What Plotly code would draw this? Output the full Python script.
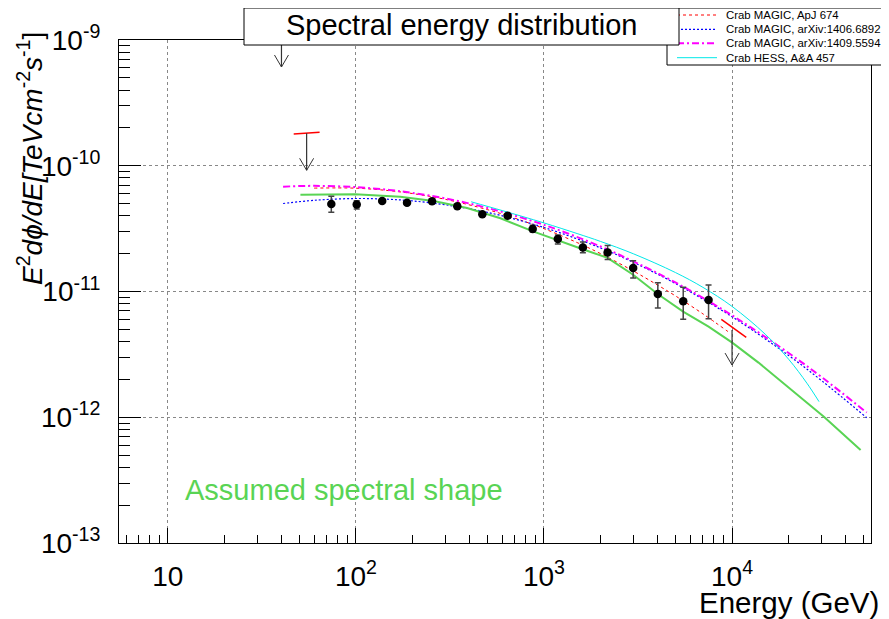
import numpy as np
import plotly.graph_objects as go

# ---------------- data ----------------
# measured points (GeV, TeV cm^-2 s^-1)
energy = [74, 101, 138, 187, 254, 346, 470, 641, 871, 1185, 1610, 2180, 2980, 4030, 5500, 7500]
flux = [4.97e-11, 4.91e-11, 5.25e-11, 5.08e-11, 5.21e-11, 4.76e-11, 4.11e-11, 4.01e-11,
        3.14e-11, 2.62e-11, 2.24e-11, 2.04e-11, 1.54e-11, 9.55e-12, 8.36e-12, 8.56e-12]
flux_err_up = [0.74e-11, 0.36e-11, 0.18e-11, 0.15e-11, 0.15e-11, 0.15e-11, 0.15e-11, 0.15e-11,
               0.22e-11, 0.19e-11, 0.23e-11, 0.28e-11, 0.22e-11, 2.2e-12, 2.44e-12, 2.7e-12]
flux_err_down = [0.70e-11, 0.38e-11, 0.18e-11, 0.15e-11, 0.15e-11, 0.15e-11, 0.15e-11, 0.15e-11,
                 0.17e-11, 0.23e-11, 0.21e-11, 0.24e-11, 0.26e-11, 2.16e-12, 2.35e-12, 2.5e-12]

# upper limits (arrow start = UL value, arrow end)
ul_energy = [40.2, 54.7, 10000]
ul_flux = [1.2e-9, 1.81e-10, 4.94e-12]
ul_arrow_end = [6.1e-10, 9.2e-11, 2.6e-12]

# red slope segments at the upper limits
seg1_energy = [46.7, 54.7, 64.1]
seg1_flux = [1.79e-10, 1.81e-10, 1.845e-10]
seg2_energy = [8770, 11900]
seg2_flux = [6.01e-12, 4.32e-12]

# reference spectra
magic_apj_E = [60, 100, 150, 200, 300, 500, 700, 1000, 1500, 2000, 3000, 4000, 5000, 7000, 9500]
magic_apj_F = [6.64e-11, 6.63e-11, 6.34e-11, 6.01e-11, 5.40e-11, 4.48e-11, 3.83e-11, 3.16e-11,
               2.45e-11, 2.00e-11, 1.45e-11, 1.13e-11, 9.23e-12, 6.64e-12, 4.81e-12]

magic_1406_E = [41, 60, 100, 150, 200, 300, 500, 1000, 2000, 3000, 5000, 10000, 20000, 30000, 52000]
magic_1406_F = [5.01e-11, 5.31e-11, 5.49e-11, 5.41e-11, 5.25e-11, 4.89e-11, 4.26e-11, 3.23e-11,
                2.22e-11, 1.70e-11, 1.157e-11, 6.30e-12, 3.10e-12, 1.95e-12, 9.91e-13]

magic_1409_E = [41, 60, 100, 150, 200, 300, 500, 1000, 2000, 3000, 5000, 10000, 20000, 30000, 52000]
magic_1409_F = [6.82e-11, 6.92e-11, 6.76e-11, 6.42e-11, 6.08e-11, 5.49e-11, 4.62e-11, 3.39e-11,
                2.28e-11, 1.73e-11, 1.18e-11, 6.46e-12, 3.24e-12, 2.08e-12, 1.09e-12]

hess_E = [410, 600, 1000, 1500, 2000, 3000, 5000, 7000, 10000, 15000, 20000, 25000, 29000]
hess_F = [5.17e-11, 4.40e-11, 3.51e-11, 2.89e-11, 2.50e-11, 1.99e-11, 1.415e-11, 1.079e-11,
          7.61e-12, 4.58e-12, 2.89e-12, 1.866e-12, 1.331e-12]

assumed_E = [50.7, 99, 172, 259, 390, 587, 882, 1329, 1607, 2178, 2979, 4025, 5495, 7500, 10020, 13820,
             30780, 48250]
assumed_F = [5.89e-11, 5.93e-11, 5.67e-11, 5.24e-11, 4.61e-11, 3.82e-11, 2.99e-11, 2.38e-11, 2.17e-11,
             1.85e-11, 1.36e-11, 9.55e-12, 6.91e-12, 5.25e-12, 3.92e-12, 2.72e-12, 1.01e-12, 5.49e-13]

legend_labels = ["Crab MAGIC, ApJ 674", "Crab MAGIC, arXiv:1406.6892",
                 "Crab MAGIC, arXiv:1409.5594", "Crab HESS, A&A 457"]

x_tickvals = [10, 100, 1000, 10000]
x_ticktext = ["10", "10<sup>2</sup>", "10<sup>3</sup>", "10<sup>4</sup>"]
y_tickvals = [1e-13, 1e-12, 1e-11, 1e-10, 1e-9]
y_ticktext = ["10<sup>-13</sup>", "10<sup>-12</sup>", "10<sup>-11</sup>", "10<sup>-10</sup>", "10<sup>-9</sup>"]

# ---------------- styling ----------------
OFF = 8                      # page body margin of the html page
W, H = 889 - OFF, 619 - OFF
ML, MR, MT, MB = 119 - OFF, 18, 40 - OFF, 76
PW, PH = W - ML - MR, H - MT - MB
FONT = "Liberation Sans, Arial, Helvetica, sans-serif"
GREEN = "#59d454"
RED, BLUE, MAG, CYAN = "#ff0000", "#0000ff", "#ff00ff", "#00e8e8"
XR = [np.log10(5.5), np.log10(54800)]
YR = [-13, -9]


def px(x):   # reference-picture pixel -> paper fraction
    return (x - OFF - ML) / PW


def py(y):
    return (H - MB - (y - OFF)) / PH


def minor_vals(lo_exp, hi_exp):
    return [m * 10.0 ** e for e in range(lo_exp, hi_exp) for m in range(2, 10)]


fig = go.Figure()

curves = [
    (magic_apj_E, magic_apj_F, RED, 1, "3px,3px", "spline"),
    (magic_1406_E, magic_1406_F, BLUE, 1.2, "2px,2px", "spline"),
    (magic_1409_E, magic_1409_F, MAG, 2, "7px,3px,2px,3px", "spline"),
    (hess_E, hess_F, CYAN, 1, "solid", "spline"),
    (assumed_E, assumed_F, GREEN, 2, "solid", "linear"),
]
for e, f, c, w, d, s in curves:
    fig.add_trace(go.Scatter(x=e, y=f, mode="lines", line=dict(color=c, width=w, dash=d, shape=s),
                             showlegend=False, hoverinfo="skip"))

# red segments
for se, sf in [(seg1_energy, seg1_flux), (seg2_energy, seg2_flux)]:
    fig.add_trace(go.Scatter(x=se, y=sf, mode="lines", line=dict(color=RED, width=1.5),
                             showlegend=False, hoverinfo="skip"))

# upper-limit arrows
ARROW = "#333333"
head_dx = 7.0 / PW * (XR[1] - XR[0])
head_dy = 12.0 / PH * (YR[1] - YR[0])
for e, f0, f1 in zip(ul_energy, ul_flux, ul_arrow_end):
    fig.add_trace(go.Scatter(x=[e, e], y=[f0, f1], mode="lines", line=dict(color=ARROW, width=1.2),
                             showlegend=False, hoverinfo="skip"))
    fig.add_trace(go.Scatter(x=[e * 10 ** (-head_dx), e, e * 10 ** head_dx],
                             y=[f1 * 10 ** head_dy, f1, f1 * 10 ** head_dy], mode="lines",
                             line=dict(color=ARROW, width=1), showlegend=False, hoverinfo="skip"))

# data points
fig.add_trace(go.Scatter(x=energy, y=flux, mode="markers",
                         marker=dict(color="black", size=8.5, symbol="circle"),
                         error_y=dict(type="data", array=flux_err_up, arrayminus=flux_err_down,
                                      color="#444444", thickness=1.5, width=3),
                         showlegend=False, hoverinfo="skip"))

axis_common = dict(type="log", showline=True, linecolor="black", linewidth=1, mirror=True,
                   ticks="inside", tickcolor="black", tickmode="array",
                   showgrid=True, gridcolor="#888888", griddash="dot", gridwidth=1,
                   zeroline=False, tickfont=dict(family=FONT, size=28, color="black"))

fig.update_xaxes(**axis_common, range=XR, ticklen=15, tickvals=x_tickvals, ticktext=x_ticktext,
                 minor=dict(tickmode="array", tickvals=minor_vals(0, 5), ticks="inside", ticklen=8,
                            tickcolor="black", showgrid=False),
                 ticklabelstandoff=8)
fig.update_yaxes(**axis_common, range=YR, ticklen=22, tickvals=y_tickvals, ticktext=y_ticktext,
                 minor=dict(tickmode="array", tickvals=minor_vals(-13, -9), ticks="inside", ticklen=11,
                            tickcolor="black", showgrid=False),
                 ticklabelstandoff=12)

shapes = []
annotations = []

# legend box
shapes.append(dict(type="rect", xref="paper", yref="paper", x0=px(667), x1=px(887), y0=py(65), y1=py(8),
                   line=dict(color="black", width=1), fillcolor="white", layer="above"))
legend_styles = [(RED, 1, "3px,3px"), (BLUE, 1.2, "2px,2px"), (MAG, 2, "7px,3px,2px,3px"), (CYAN, 1, "solid")]
rows = [15, 29.3, 43.3, 57.7]
for (c, w, d), r, lab in zip(legend_styles, rows, legend_labels):
    shapes.append(dict(type="line", xref="paper", yref="paper", x0=px(677), x1=px(717), y0=py(r), y1=py(r),
                       line=dict(color=c, width=w, dash=d), layer="above"))
    annotations.append(dict(xref="paper", yref="paper", x=px(724), y=py(r), text=lab, showarrow=False,
                            xanchor="left", yanchor="middle", font=dict(family=FONT, size=11.4, color="black")))

# title box
shapes.append(dict(type="rect", xref="paper", yref="paper", x0=px(244), x1=px(679), y0=py(45), y1=py(8),
                   line=dict(color="black", width=1), fillcolor="white", layer="above"))
annotations.append(dict(xref="paper", yref="paper", x=px(461.5), y=py(25), text="Spectral energy distribution",
                        showarrow=False, xanchor="center", yanchor="middle",
                        font=dict(family=FONT, size=29, color="black")))

# green label
annotations.append(dict(xref="paper", yref="paper", x=px(183), y=py(490), text="Assumed spectral shape",
                        showarrow=False, xanchor="left", yanchor="middle",
                        font=dict(family=FONT, size=29, color=GREEN)))

# axis titles
annotations.append(dict(xref="paper", yref="paper", x=px(881), y=py(602), text="Energy (GeV)",
                        showarrow=False, xanchor="right", yanchor="middle",
                        font=dict(family=FONT, size=29.5, color="black")))
annotations.append(dict(xref="paper", yref="paper", x=px(30), y=py(159),
                        text="<i>E</i><sup>2</sup><i>d\u03d5/dE[TeVcm</i><sup>-2</sup><i>s</i><sup>-1</sup>]",
                        showarrow=False, textangle=-90, xanchor="center", yanchor="middle",
                        font=dict(family=FONT, size=28, color="black")))

fig.update_layout(width=W, height=H, margin=dict(l=ML, r=MR, t=MT, b=MB, pad=0),
                  paper_bgcolor="white", plot_bgcolor="white", shapes=shapes, annotations=annotations,
                  showlegend=False)

fig.write_html("out.html")
